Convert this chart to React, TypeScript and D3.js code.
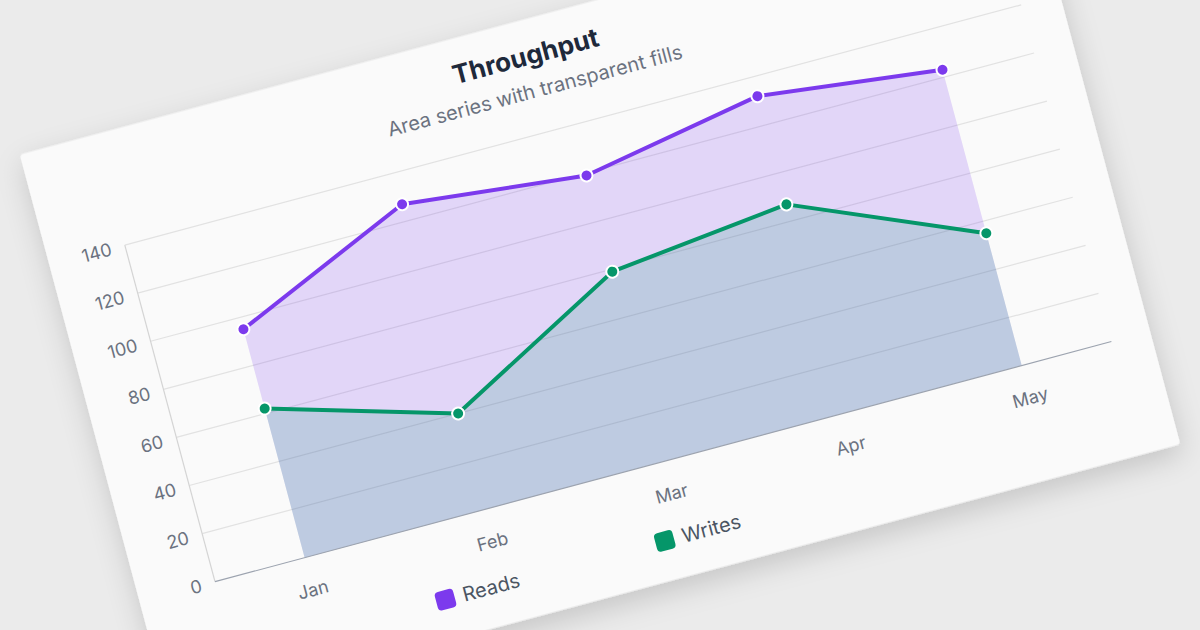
import React from 'react'
import * as d3 from 'd3'

const months = ['Jan', 'Feb', 'Mar', 'Apr', 'May']
const reads = [95, 127, 119, 132, 123]
const writes = [62, 40, 79, 87, 55]
const yTicks = [0, 20, 40, 60, 80, 100, 120, 140]

const W = 1200
const H = 630
// plot size in the card's own frame
const plotW = 928
const plotH = 348.5
const font = 'Inter, "Noto Sans", sans-serif'

const App = () => {
  const x = d3.scaleBand<string>().domain(months).range([0, plotW])
  const y = d3.scaleLinear().domain([0, 140]).range([plotH, 0])
  const cx = (m: string) => (x(m) || 0) + x.bandwidth() / 2

  const area = d3
    .area<number>()
    .x((_, i) => cx(months[i]))
    .y0(y(0))
    .y1((d) => y(d))
  const line = d3
    .line<number>()
    .x((_, i) => cx(months[i]))
    .y((d) => y(d))

  const series = [
    { name: 'Reads', values: reads, color: '#7c3aed', fill: 0.19, legendX: 218 },
    { name: 'Writes', values: writes, color: '#059669', fill: 0.16, legendX: 445 },
  ]

  return (
    <svg width={W} height={H} style={{ position: 'fixed', left: 0, top: 0 }}>
      <defs>
        <filter id="shadow" x="-10%" y="-10%" width="120%" height="130%">
          <feDropShadow dx="0" dy="10" stdDeviation="14" floodColor="#000" floodOpacity="0.16" />
        </filter>
      </defs>
      <rect width={W} height={H} fill="#ebebeb" />
      <g transform={`translate(215,581.7) rotate(-15) translate(0,${-plotH})`}>
        {/* card */}
        <rect x={-78} y={-114.5} width={1046} height={580} rx={4} fill="#fafafa" filter="url(#shadow)" />

        <text x={436} y={-79} textAnchor="middle" dominantBaseline="central" fontFamily={font} fontSize={26} fontWeight={700} fill="#1e293b">
          Throughput
        </text>
        <text x={436} y={-43} textAnchor="middle" dominantBaseline="central" fontFamily={font} fontSize={20} fill="#6b7280">
          Area series with transparent fills
        </text>

        {/* grid */}
        {yTicks.slice(1).map((t) => (
          <line key={t} x1={0} x2={plotW} y1={y(t)} y2={y(t)} stroke="#e2e2e2" strokeWidth={1.2} />
        ))}

        {/* areas */}
        {series.map((s) => (
          <path key={s.name + 'a'} d={area(s.values) || ''} fill={s.color} fillOpacity={s.fill} />
        ))}

        {/* axes */}
        <line x1={0} x2={0} y1={0} y2={plotH} stroke="#d4d4d4" strokeWidth={1.2} />
        <line x1={0} x2={plotW} y1={plotH} y2={plotH} stroke="#9ca3af" strokeWidth={1.2} />

        {yTicks.map((t) => (
          <text key={t} x={-14} y={y(t)} textAnchor="end" dominantBaseline="central" fontFamily={font} fontSize={18} fill="#6b7280">
            {t}
          </text>
        ))}
        {months.map((m) => (
          <text key={m} x={cx(m)} y={plotH + 33} textAnchor="middle" dominantBaseline="central" fontFamily={font} fontSize={18} fill="#6b7280">
            {m}
          </text>
        ))}

        {/* lines + points */}
        {series.map((s) => (
          <g key={s.name}>
            <path d={line(s.values) || ''} fill="none" stroke={s.color} strokeWidth={4} strokeLinejoin="round" />
            {s.values.map((v, i) => (
              <circle key={i} cx={cx(months[i])} cy={y(v)} r={6} fill={s.color} stroke="#fff" strokeWidth={2} />
            ))}
          </g>
        ))}

        {/* legend */}
        {series.map((s) => (
          <g key={s.name + 'l'} transform={`translate(${s.legendX},${plotH + 77})`}>
            <rect x={-9.5} y={-9.5} width={19} height={19} rx={4} fill={s.color} />
            <text x={18} y={0} dominantBaseline="central" fontFamily={font} fontSize={20} fill="#4b5563">
              {s.name}
            </text>
          </g>
        ))}
      </g>
    </svg>
  )
}

export default App
